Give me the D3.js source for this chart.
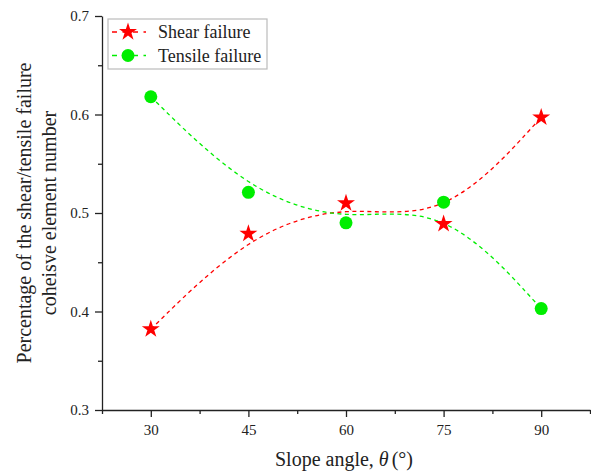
<!DOCTYPE html>
<html>
<head>
<meta charset="utf-8">
<script src="https://cdn.jsdelivr.net/npm/d3@7"></script>
<style>
  html, body { margin: 0; padding: 0; background: #fff; }
  svg { display: block; }
</style>
</head>
<body>
<svg id="chart" width="591" height="471" font-family="Liberation Serif"></svg>
<script>
// Slope angles (degrees) and the share of failed cohesive elements
const angles = [30, 45, 60, 75, 90];
const shearFailure = [0.382, 0.479, 0.510, 0.489, 0.597];
const tensileFailure = [0.618, 0.521, 0.490, 0.511, 0.403];
const xTicks = [30, 45, 60, 75, 90];
const yTicks = [0.3, 0.4, 0.5, 0.6, 0.7];
const seriesNames = ["Shear failure", "Tensile failure"];

const FONT = "Liberation Serif";
const svg = d3.select("#chart");
const margin = { left: 102, right: 1, top: 16, bottom: 61 };
const W = 591, H = 471;

const x = d3.scaleLinear().domain([22.5, 97.5]).range([margin.left, W - margin.right]);
const y = d3.scaleLinear().domain([0.3, 0.7]).range([H - margin.bottom, margin.top]);

const axisColor = "#222";

// Bottom axis: minor ticks, then major ticks with labels
const xMinor = d3.range(22.5, 97.6, 7.5).filter(v => !xTicks.includes(v));
const gx = svg.append("g").attr("transform", `translate(0,${y(0.3)})`)
  .call(d3.axisBottom(x).tickValues(xMinor).tickSize(4).tickFormat(""));
gx.select(".domain").remove();
const gx2 = svg.append("g").attr("transform", `translate(0,${y(0.3)})`)
  .call(d3.axisBottom(x).tickValues(xTicks).tickSize(7).tickSizeOuter(0).tickPadding(7).tickFormat(d3.format("d")));

// Left axis
const yMinor = [0.35, 0.45, 0.55, 0.65];
const gy = svg.append("g").attr("transform", `translate(${x(22.5)},0)`)
  .call(d3.axisLeft(y).tickValues(yMinor).tickSize(4).tickFormat(""));
gy.select(".domain").remove();
const gy2 = svg.append("g").attr("transform", `translate(${x(22.5)},0)`)
  .call(d3.axisLeft(y).tickValues(yTicks).tickSize(7).tickSizeOuter(0).tickPadding(6).tickFormat(d3.format(".1f")));

[gx, gx2, gy, gy2].forEach(g => {
  g.attr("font-family", FONT).attr("font-size", 15);
  g.selectAll("line, path").attr("stroke", axisColor).attr("stroke-width", 1.3);
  g.selectAll("text").attr("fill", axisColor);
});

// Smoothed dashed trend curves
const line = d3.line().x(d => x(d[0])).y(d => y(d[1])).curve(d3.curveBasis);
const series = [
  { name: seriesNames[0], values: shearFailure, color: "#ff0000", marker: "star" },
  { name: seriesNames[1], values: tensileFailure, color: "#00ee00", marker: "circle" }
];

const starPath = d3.symbol().type(d3.symbolStar).size(100)();
const dotR = 6.5;

series.forEach(s => {
  svg.append("path")
    .datum(angles.map((a, i) => [a, s.values[i]]))
    .attr("d", line)
    .attr("fill", "none")
    .attr("stroke", s.color)
    .attr("stroke-width", 1.3)
    .attr("stroke-dasharray", "4,3.5");
});

series.forEach(s => {
  const pts = angles.map((a, i) => [a, s.values[i]]);
  if (s.marker === "star") {
    svg.append("g").selectAll("path").data(pts).join("path")
      .attr("d", starPath)
      .attr("transform", d => `translate(${x(d[0])},${y(d[1])})`)
      .attr("fill", s.color);
  } else {
    svg.append("g").selectAll("circle").data(pts).join("circle")
      .attr("cx", d => x(d[0])).attr("cy", d => y(d[1])).attr("r", dotR)
      .attr("fill", s.color);
  }
});

// Legend
const legend = svg.append("g").attr("transform", "translate(108,19)");
legend.append("rect").attr("width", 159).attr("height", 50)
  .attr("fill", "#fff").attr("stroke", "#bbb").attr("stroke-width", 1.2);
series.forEach((s, i) => {
  const cy = 13 + i * 23.5;
  legend.append("line").attr("x1", 3).attr("x2", 38).attr("y1", cy).attr("y2", cy)
    .attr("stroke", s.color).attr("stroke-width", 1.3).attr("stroke-dasharray", "5,5.5")
    .attr("stroke-dashoffset", -1);
  if (s.marker === "star") {
    legend.append("path").attr("d", starPath).attr("transform", `translate(20,${cy})`).attr("fill", s.color);
  } else {
    legend.append("circle").attr("cx", 20).attr("cy", cy).attr("r", dotR).attr("fill", s.color);
  }
  legend.append("text").attr("x", 50).attr("y", cy).attr("dy", "0.35em")
    .attr("font-family", FONT).attr("font-size", 18).attr("fill", "#222").text(s.name);
});

// Axis titles
const xt = svg.append("text").attr("x", x(60) - 2).attr("y", 466)
  .attr("text-anchor", "middle").attr("font-family", FONT).attr("font-size", 20).attr("fill", "#222");
xt.append("tspan").text("Slope angle, ");
xt.append("tspan").attr("font-style", "italic").text("θ");
xt.append("tspan").attr("dx", 3).text("(°)");

const yt = svg.append("text").attr("transform", `translate(0,${y(0.5)}) rotate(-90)`)
  .attr("text-anchor", "middle").attr("font-family", FONT).attr("font-size", 20).attr("fill", "#222");
yt.append("tspan").attr("x", 0).attr("y", 31).text("Percentage of the shear/tensile failure");
yt.append("tspan").attr("x", 0).attr("y", 56).text("coheisve element number");
</script>
</body>
</html>
